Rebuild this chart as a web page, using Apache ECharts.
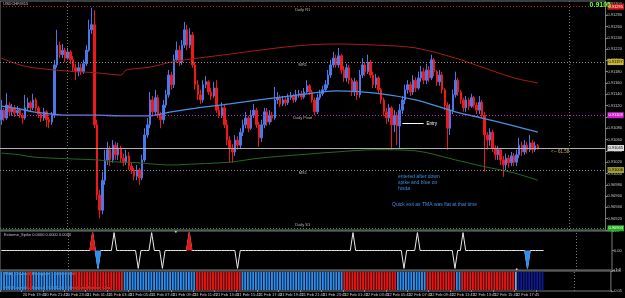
<!DOCTYPE html>
<html>
<head>
<meta charset="utf-8">
<title>USDCHF M15</title>
<script src="https://cdn.jsdelivr.net/npm/echarts@6/dist/echarts.min.js"></script>
<style>
html,body{margin:0;padding:0;background:#000;}
#chart{width:625px;height:298px;}
</style>
</head>
<body>
<div id="chart"></div>
<script>
// prices in points (1 point = 0.00001), open of each bar = previous close
var firstOpen = 91095;
var closePts = [
 91112,91098,91121,91109,91116,91107,91112,91103,91098,91116,
 91125,91116,91130,91116,91105,91098,91109,91095,91091,91103,
 91192,91227,91210,91218,91204,91215,91201,91187,91180,91187,
 91180,91194,91218,91254,91263,91086,90962,90935,90988,91024,
 91042,91024,91050,91033,91045,91027,91020,91031,91013,91006,
 90995,91006,90992,91024,91068,91086,91130,91109,91134,91103,
 91095,91121,91139,91174,91157,91201,91218,91197,91227,91254,
 91227,91245,91192,91157,91139,91130,91157,91162,91144,91137,
 91151,91112,91103,91116,91086,91059,91045,91038,91059,91050,
 91073,91086,91098,91080,91103,91112,91086,91063,91086,91109,
 91091,91103,91098,91130,91134,91123,91130,91125,91134,91137,
 91130,91139,91141,91135,91144,91155,91144,91130,91109,91134,
 91141,91148,91157,91174,91192,91204,91192,91208,91183,91169,
 91187,91165,91144,91162,91139,91174,91192,91180,91197,91174,
 91157,91169,91148,91130,91109,91098,91116,91086,91103,91084,
 91112,91130,91148,91157,91144,91165,91151,91169,91180,91165,
 91183,91169,91201,91180,91162,91174,91148,91121,91080,91112,
 91139,91165,91144,91130,91116,91130,91119,91134,91121,91112,
 91126,91103,91068,91059,91073,91045,91033,91042,91024,91015,
 91027,91019,91031,91020,91033,91050,91038,91050,91042,91054,
 91042,91049,91045
];
var highPts = [
 91130,91116,91142,91126,91123,91121,91119,91116,91107,91139,
 91134,91128,91141,91134,91119,91109,91116,91112,91100,91109,
 91201,91254,91233,91229,91222,91222,91218,91208,91194,91197,
 91194,91201,91227,91272,91293,91289,91095,90971,91003,91042,
 91056,91049,91059,91056,91054,91049,91035,91042,91038,91020,
 91010,91015,91010,91033,91080,91098,91144,91137,91148,91139,
 91109,91130,91148,91183,91180,91210,91233,91226,91236,91268,
 91263,91257,91250,91197,91165,91148,91165,91172,91165,91151,
 91162,91165,91119,91126,91123,91095,91066,91052,91068,91066,
 91080,91095,91109,91102,91112,91123,91116,91091,91095,91116,
 91116,91112,91109,91153,91144,91139,91137,91135,91141,91144,
 91141,91148,91148,91146,91151,91165,91158,91148,91134,91141,
 91148,91155,91165,91183,91201,91215,91210,91222,91211,91190,
 91194,91192,91169,91169,91165,91183,91204,91197,91210,91201,
 91180,91176,91172,91151,91134,91116,91123,91119,91112,91109,
 91123,91137,91157,91165,91162,91174,91170,91180,91190,91187,
 91194,91190,91210,91204,91183,91183,91180,91151,91126,91123,
 91148,91180,91169,91148,91134,91137,91134,91141,91137,91126,
 91137,91130,91109,91073,91080,91077,91050,91049,91045,91031,
 91035,91033,91038,91036,91042,91063,91056,91059,91056,91068,
 91059,91056,91052
];
var lowPts = [
 91086,91093,91095,91103,91102,91100,91102,91098,91088,91095,
 91112,91110,91112,91110,91098,91091,91093,91082,91080,91086,
 91098,91187,91204,91204,91197,91201,91194,91180,91165,91172,
 91174,91176,91190,91215,91247,91080,90953,90921,90928,90980,
 91015,91013,91019,91024,91024,91019,91013,91015,91006,90999,
 90988,90988,90980,90988,91020,91063,91080,91102,91103,91098,
 91080,91088,91116,91134,91148,91151,91196,91190,91192,91222,
 91218,91222,91187,91148,91130,91123,91125,91151,91139,91130,
 91134,91107,91098,91098,91080,91050,91019,91019,91031,91042,
 91045,91066,91080,91073,91077,91098,91080,91047,91056,91080,
 91084,91086,91091,91095,91123,91118,91119,91119,91121,91130,
 91125,91126,91134,91130,91132,91141,91139,91125,91103,91105,
 91130,91137,91144,91151,91169,91187,91187,91187,91176,91162,
 91162,91158,91137,91137,91130,91134,91169,91172,91176,91169,
 91151,91151,91141,91123,91102,91088,91091,91042,91073,91050,
 91045,91105,91123,91141,91137,91139,91144,91148,91162,91158,
 91158,91162,91165,91172,91155,91155,91141,91112,91042,91068,
 91105,91134,91137,91123,91109,91109,91112,91116,91116,91105,
 91105,91098,91003,91042,91049,91038,91024,91024,91015,90994,
 91006,91010,91013,91013,91013,91027,91031,91033,91035,91038,
 91036,91038,91042
];

// channel lines, read at these bar indices
var bandIdx   = [0, 7, 12, 25, 36, 45, 47, 56, 64, 74, 86, 97, 112, 126, 141, 156, 171, 181, 193, 202];
var upperBand = [91204,91192,91187,91181,91178,91174,91183,91188,91197,91204,91211,91218,91226,91229,91227,91222,91204,91188,91169,91160];
var midBand   = [91119,91114,91109,91103,91103,91102,91102,91102,91109,91116,91123,91130,91139,91146,91142,91130,91109,91098,91084,91073];
var lowerBand = [91036,91033,91029,91026,91024,91020,91020,91017,91015,91017,91020,91027,91033,91038,91042,91040,91024,91013,91001,90988];

// pivot levels and current bid
var levelNames = ['Daily R1', 'MR1', 'Daily Pivot', 'MS1', 'Daily S1'];
var levelPts = [91295, 91197, 91103, 91006, 90903];
var bidPts = 91045;
var entryPts = 91088;
var entryBars = [151, 159];
var separatorBars = [25, 214];

// spike indicator
var spikeBars = [34, 36, 42, 51, 56, 60, 70, 88, 131, 150, 155, 169, 172, 196];
var spikeVals = [1.1, -1.1, 1.1, -1.1, 1.1, -1.1, 1.1, -1.1, 1.1, -1.1, 1.1, -1.1, 1.1, -1.1];
var spikeFill = ['R', 'B', '', '', '', '', 'R', '', '', '', '', '', '', 'B'];
var spikeDots = [[65, 1.15], [192, -1.15]];

// histogram state runs: B blue, R red, L light, N navy
var histRuns = [['B',10],['R',2],['B',15],['R',19],['B',27],['R',17],['B',38],['R',20],['B',11],['R',11],['B',2],['R',20],['L',1],['N',10]];

var slotCount = 228;
var startTime = Date.UTC(2012, 1, 20, 17, 45);

var FONT = 'Liberation Sans, Arial, sans-serif';
var levelLine = ['#c02020', '#909090', '#d020d0', '#909090', '#20b020'];
var levelTag  = ['#d01818', '#c8b830', '#d020d0', '#a0a030', '#20b020'];
var levelTxt  = ['#fff', '#000', '#fff', '#000', '#fff'];
var levelPos  = ['insideMiddleBottom', 'insideMiddleBottom', 'insideMiddleBottom', 'insideMiddleBottom', 'insideMiddleTop'];
var histColor = {B: '#2d8ff0', R: '#f01414', L: '#8aa8d8', N: '#0c1c90'};

function pad(n) { return (n < 10 ? '0' : '') + n; }
var months = ['Jan','Feb','Mar','Apr','May','Jun','Jul','Aug','Sep','Oct','Nov','Dec'];
var cats = [];
for (var i = 0; i < slotCount; i++) {
	var d = new Date(startTime + i * 900000);
	cats.push(d.getUTCDate() + ' ' + months[d.getUTCMonth()] + ' ' + pad(d.getUTCHours()) + ':' + pad(d.getUTCMinutes()));
}
var d0 = new Date(startTime);
var firstLabel = d0.getUTCDate() + ' ' + months[d0.getUTCMonth()] + ' ' + d0.getUTCFullYear();
var nBars = closePts.length;

function px(v) { return v / 1e5; }

var candles = [];
for (var i = 0; i < nBars; i++) {
	var o = i === 0 ? firstOpen : closePts[i - 1];
	candles.push([px(o), px(closePts[i]), px(lowPts[i]), px(highPts[i])]);
}
function band(arr) {
	return bandIdx.map(function(b, k) { return [b, px(arr[k])]; });
}

var spikeLine = [];
for (var i = 0; i < nBars; i++) spikeLine.push(0);
var fillR = [], fillB = [];
for (var i = 0; i < nBars; i++) { fillR.push(null); fillB.push(null); }
spikeBars.forEach(function(b, k) {
	spikeLine[b] = spikeVals[k];
	var tgt = spikeFill[k] === 'R' ? fillR : (spikeFill[k] === 'B' ? fillB : null);
	if (tgt) { tgt[b - 1] = 0; tgt[b] = spikeVals[k]; tgt[b + 1] = 0; }
});

var hist = [];
histRuns.forEach(function(r) {
	for (var j = 0; j < r[1]; j++) hist.push({value: 1, itemStyle: {color: histColor[r[0]]}});
});

// horizontal levels, drawn from a helper series
var levelMarks = [];
levelPts.forEach(function(p, k) {
	levelMarks.push({
		yAxis: px(p),
		lineStyle: {color: levelLine[k], type: [1, 2], width: 1},
		label: {show: true, position: 'end', distance: 2, formatter: px(p).toFixed(5),
			backgroundColor: levelTag[k], color: levelTxt[k], fontSize: 4, fontFamily: FONT, padding: [1, 1]}
	});
});
levelMarks.push({
	yAxis: px(bidPts),
	lineStyle: {color: '#b0b0b0', type: 'solid', width: 1},
	label: {show: true, position: 'end', distance: 2, formatter: px(bidPts).toFixed(5),
		backgroundColor: '#dcdcdc', color: '#000', fontSize: 4, fontFamily: FONT, padding: [1, 1]}
});
var nameMarks = levelPts.map(function(p, k) {
	return {
		yAxis: px(p),
		lineStyle: {width: 0, color: 'rgba(0,0,0,0)'},
		label: {show: true, position: levelPos[k], distance: 1, formatter: levelNames[k],
			color: '#b8b8b8', fontSize: 4, fontFamily: FONT}
	};
});
var entryMark = [[
	{coord: [entryBars[0], px(entryPts)], lineStyle: {color: '#ffffff', type: 'solid', width: 1},
		label: {show: true, position: 'end', distance: 3, formatter: 'Entry', color: '#ffffff', fontSize: 4.5, fontFamily: FONT}},
	{coord: [entryBars[1], px(entryPts)]}
]];

function sepMarks() {
	return {
		silent: true, symbol: ['none', 'none'], animation: false,
		data: separatorBars.map(function(b) {
			return {xAxis: b, lineStyle: {color: '#7a7a7a', type: [1, 2], width: 1}, label: {show: false}};
		})
	};
}

function xAx(idx, showLabels) {
	return {
		type: 'category', gridIndex: idx, data: cats,
		axisLine: {show: false},
		axisTick: {show: showLabels, length: 2, lineStyle: {color: '#8a8a8a'},
			interval: function(i) { return i === 0 || (i >= 8 && (i - 8) % 8 === 0 && i < nBars); }},
		axisLabel: {show: showLabels, fontSize: 4, color: '#c8c8c8', fontFamily: FONT, align: 'left', margin: 2,
			interval: function(i) { return i === 0 || (i >= 8 && (i - 8) % 8 === 0 && i < nBars); },
			formatter: function(v, i) { return i === 0 ? firstLabel : v; }},
		splitLine: {show: false}
	};
}

var chart = echarts.init(document.getElementById('chart'), null, {renderer: 'canvas'});
chart.setOption({
	backgroundColor: '#000',
	animation: false,
	grid: [
		{left: 0, right: 13, top: 1, height: 229, show: true, borderColor: '#7a7a7a', borderWidth: 1, backgroundColor: '#000'},
		{left: 0, right: 13, top: 231, height: 39, show: true, borderColor: '#7a7a7a', borderWidth: 1, backgroundColor: '#000'},
		{left: 0, right: 13, top: 271, height: 20, show: true, borderColor: '#7a7a7a', borderWidth: 1, backgroundColor: '#000'}
	],
	xAxis: [xAx(0, false), xAx(1, false), xAx(2, true)],
	yAxis: [
		{type: 'value', gridIndex: 0, position: 'right', min: 0.909, max: 0.91305, interval: 0.0002,
			axisLine: {show: false}, splitLine: {show: false},
			axisTick: {show: true, length: 2, lineStyle: {color: '#8a8a8a'}},
			axisLabel: {fontSize: 4, color: '#c8c8c8', fontFamily: FONT, margin: 2, showMaxLabel: false,
				formatter: function(v) { return v.toFixed(5); }}},
		{type: 'value', gridIndex: 1, position: 'right', min: -1.2, max: 1.2,
			axisLine: {show: false}, splitLine: {show: false},
			axisTick: {show: true, length: 2, lineStyle: {color: '#8a8a8a'}, customValues: [-1.2, 0, 1.2]},
			axisLabel: {fontSize: 4, color: '#c8c8c8', fontFamily: FONT, margin: 2, customValues: [-1.2, 0, 1.2],
				formatter: function(v) { return v === 0 ? '0.00' : v.toFixed(1); }}},
		{type: 'value', gridIndex: 2, position: 'right', min: -0.05, max: 1.05,
			axisLine: {show: false}, splitLine: {show: false},
			axisTick: {show: true, length: 2, lineStyle: {color: '#8a8a8a'}, customValues: [-0.05, 1.05]},
			axisLabel: {fontSize: 4, color: '#c8c8c8', fontFamily: FONT, margin: 2, customValues: [-0.05, 1.05],
				formatter: function(v) { return v.toFixed(2); }}}
	],
	series: [
		{
			name: 'levels', type: 'line', xAxisIndex: 0, yAxisIndex: 0, data: [], silent: true,
			markLine: {silent: true, precision: 6, symbol: ['none', 'none'], animation: false, data: levelMarks}
		},
		{
			name: 'levelNames', type: 'line', xAxisIndex: 0, yAxisIndex: 0, data: [], silent: true,
			markLine: {silent: true, precision: 6, symbol: ['none', 'none'], animation: false, data: nameMarks}
		},
		{
			type: 'line', xAxisIndex: 0, yAxisIndex: 0, data: band(upperBand), smooth: 0.3,
			symbol: 'none', lineStyle: {color: '#a81c1c', width: 1}, silent: true
		},
		{
			type: 'line', xAxisIndex: 0, yAxisIndex: 0, data: band(midBand), smooth: 0.3,
			symbol: 'none', lineStyle: {color: '#4a90e0', width: 1.3}, silent: true
		},
		{
			type: 'line', xAxisIndex: 0, yAxisIndex: 0, data: band(lowerBand), smooth: 0.3,
			symbol: 'none', lineStyle: {color: '#246a24', width: 1}, silent: true
		},
		{
			type: 'candlestick', xAxisIndex: 0, yAxisIndex: 0, data: candles, barWidth: 2,
			itemStyle: {color: '#4a78e8', color0: '#f01818', borderColor: '#4a78e8', borderColor0: '#f01818', borderWidth: 1},
			markLine: {silent: true, precision: 6, symbol: ['none', 'none'], animation: false,
				data: entryMark.concat(sepMarks().data)}
		},
		{
			type: 'line', xAxisIndex: 1, yAxisIndex: 1, data: fillR, symbol: 'none',
			lineStyle: {color: '#e01818', width: 1}, areaStyle: {color: '#e01818', opacity: 1}, silent: true
		},
		{
			type: 'line', xAxisIndex: 1, yAxisIndex: 1, data: fillB, symbol: 'none',
			lineStyle: {color: '#2d8ff0', width: 1}, areaStyle: {color: '#2d8ff0', opacity: 1}, silent: true
		},
		{
			type: 'line', xAxisIndex: 1, yAxisIndex: 1, data: spikeLine, symbol: 'none',
			lineStyle: {color: '#e8e8e8', width: 1}, silent: true, z: 1,
			markLine: sepMarks()
		},
		{
			type: 'scatter', xAxisIndex: 1, yAxisIndex: 1, data: spikeDots, symbolSize: 2,
			itemStyle: {color: '#e8e8e8'}, silent: true
		},
		{
			type: 'bar', xAxisIndex: 2, yAxisIndex: 2, data: hist, barCategoryGap: '30%', silent: true,
			markLine: sepMarks()
		}
	],
	graphic: [
		{type: 'text', left: 3, top: 2, style: {text: 'USDCHF,M15', fill: '#c0c0c0', fontSize: 4, fontFamily: FONT}},
		{type: 'text', right: 14, top: 2, z: 100, style: {text: '0.9105', fill: '#66ff33', fontSize: 7, fontWeight: 'bold', fontFamily: FONT}},
		{type: 'text', left: 4, top: 233, style: {text: 'Extreme_Spike 0.0000 0.0000 0.0000', fill: '#c0c0c0', fontSize: 4, fontFamily: FONT}},
		{type: 'text', left: 2, top: 272, style: {text: 'TMA_Channel_Histogram 1.0000 0.0000', fill: '#d0d0d0', fontSize: 4, fontFamily: FONT, backgroundColor: '#000', padding: [0, 2]}},
		{type: 'text', left: 3, top: 286, style: {text: 'FOREX.com MetaTrader 4, \u00a9 2001-2012 MetaQuotes Software Corp.', fill: '#b0c0e0', fontSize: 3.5, fontFamily: FONT}},
		{type: 'text', left: 398, top: 174, style: {text: 'entered after down', fill: '#3a8fe0', fontSize: 5, fontFamily: FONT}},
		{type: 'text', left: 398, top: 180, style: {text: 'spike and blue on', fill: '#3a8fe0', fontSize: 5, fontFamily: FONT}},
		{type: 'text', left: 398, top: 186, style: {text: 'hisda', fill: '#3a8fe0', fontSize: 5, fontFamily: FONT}},
		{type: 'text', left: 392, top: 202, style: {text: 'Quick exit as TMA was flat at that time', fill: '#3a8fe0', fontSize: 5, fontFamily: FONT}},
		{type: 'text', left: 551, top: 149, style: {text: '<-- 61.58', fill: '#c8b050', fontSize: 4.5, fontFamily: FONT}}
	]
});
</script>
</body>
</html>
